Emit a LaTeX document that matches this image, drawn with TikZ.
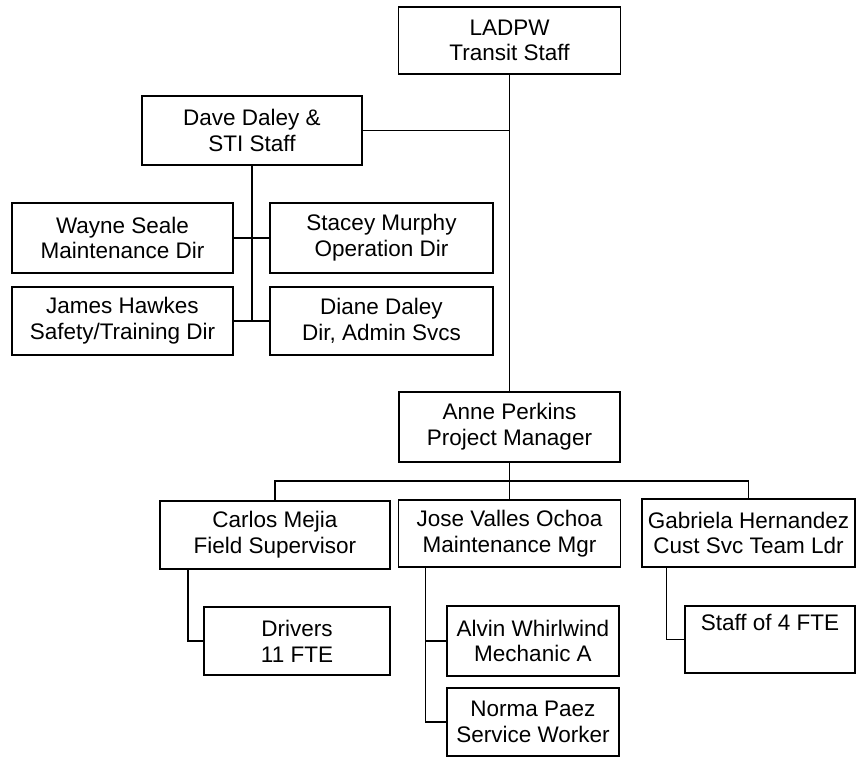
\documentclass[tikz,border=0pt]{standalone}
\usepackage{fontspec}
\setmainfont{Liberation Sans}
\begin{document}
\begin{tikzpicture}[x=1pt,y=-1pt,
  box/.style={draw, line width=1.3pt, inner sep=0pt, align=center,
    font=\fontsize{22.5}{25.7}\selectfont},
  link/.style={line width=1.3pt}]
\useasboundingbox (0,0) rectangle (856,757);
\fill[white] (0,0) rectangle (856,757);
% nodes
\node[box, minimum width=222, minimum height=67] (ladpw) at (509.5,40.5) {LADPW\\Transit Staff};
\node[box, minimum width=220, minimum height=69] (dave) at (252,130.5) {Dave Daley \&\\STI Staff};
\node[box, minimum width=221, minimum height=70] (wayne) at (122.5,238) {Wayne Seale\\Maintenance Dir};
\node[box, minimum width=223, minimum height=70] (stacey) at (381.5,238) {Stacey Murphy\\Operation Dir};
\node[box, minimum width=221, minimum height=68] (james) at (122.5,321) {James Hawkes\\Safety/Training Dir};
\node[box, minimum width=223, minimum height=68] (diane) at (381.5,321) {Diane Daley\\Dir, Admin Svcs};
\node[box, minimum width=221, minimum height=70] (anne) at (509.5,427) {Anne Perkins\\Project Manager};
\node[box, minimum width=230, minimum height=68] (carlos) at (275,535) {Carlos Mejia\\Field Supervisor};
\node[box, minimum width=222, minimum height=67] (jose) at (509.5,533.5) {Jose Valles Ochoa\\Maintenance Mgr};
\node[box, minimum width=213, minimum height=68] (gabriela) at (748.5,533) {Gabriela Hernandez\\Cust Svc Team Ldr};
\node[box, minimum width=186, minimum height=68] (drivers) at (297,641) {Drivers\\11 FTE};
\node[box, minimum width=172, minimum height=70] (alvin) at (533,641) {Alvin Whirlwind\\Mechanic A};
\node[box, minimum width=172, minimum height=68] (norma) at (533,722) {Norma Paez\\Service Worker};
\node[box, minimum width=170, minimum height=67] (staff) at (770,639.5) {Staff of 4 FTE\\\strut};
% connectors
\draw[link] (ladpw.south) -- (anne.north);
\draw[link] (dave.east) -- (dave.east -| ladpw.south);
\draw[link] (dave.south) -- (dave.south |- james.east);
\draw[link] (wayne.east) -- (stacey.west);
\draw[link] (james.east) -- (diane.west);
\coordinate (bus) at (0,481);
\draw[link] (anne.south) -- (jose.north);
\draw[link] (carlos.north) -- (carlos.north |- bus) -- (gabriela.north |- bus) -- (gabriela.north);
\draw[link] ([xshift=-87]carlos.south) |- (drivers.west);
\draw[link] ([xshift=-84]jose.south) |- (norma.west);
\draw[link] ([xshift=-84]jose.south |- alvin.west) -- (alvin.west);
\draw[link] ([xshift=-82]gabriela.south) |- (staff.west);
\end{tikzpicture}
\end{document}
